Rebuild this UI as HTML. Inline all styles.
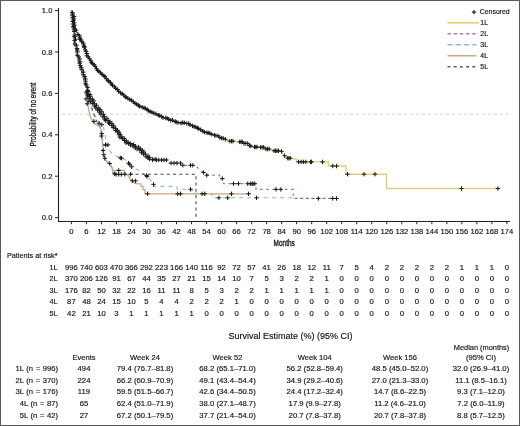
<!DOCTYPE html>
<html><head><meta charset="utf-8"><style>
html,body{margin:0;padding:0;background:#fff;}
svg{display:block;}
text{font-family:"Liberation Sans", sans-serif;fill:#111;stroke:#111;stroke-width:0.15px;}
</style></head><body>
<svg width="520" height="426" viewBox="0 0 520 426">
<defs><filter id="b" x="-5%" y="-5%" width="110%" height="110%"><feGaussianBlur stdDeviation="0.25"/></filter></defs>
<g filter="url(#b)">
<line x1="62" y1="114.10" x2="508" y2="114.10" stroke="#cfcfcf" stroke-width="1" stroke-dasharray="3 3"/>
<path d="M58.5 8 V221.5 H510" fill="none" stroke="#222" stroke-width="1.1"/>
<line x1="55" y1="217.60" x2="58.5" y2="217.60" stroke="#222" stroke-width="1"/>
<text x="52.4" y="220.10" text-anchor="end" font-size="7.6">0.0</text>
<line x1="55" y1="176.20" x2="58.5" y2="176.20" stroke="#222" stroke-width="1"/>
<text x="52.4" y="178.70" text-anchor="end" font-size="7.6">0.2</text>
<line x1="55" y1="134.80" x2="58.5" y2="134.80" stroke="#222" stroke-width="1"/>
<text x="52.4" y="137.30" text-anchor="end" font-size="7.6">0.4</text>
<line x1="55" y1="93.40" x2="58.5" y2="93.40" stroke="#222" stroke-width="1"/>
<text x="52.4" y="95.90" text-anchor="end" font-size="7.6">0.6</text>
<line x1="55" y1="52.00" x2="58.5" y2="52.00" stroke="#222" stroke-width="1"/>
<text x="52.4" y="54.50" text-anchor="end" font-size="7.6">0.8</text>
<line x1="55" y1="10.60" x2="58.5" y2="10.60" stroke="#222" stroke-width="1"/>
<text x="52.4" y="13.10" text-anchor="end" font-size="7.6">1.0</text>
<line x1="71.40" y1="221.5" x2="71.40" y2="224.2" stroke="#222" stroke-width="1"/>
<text x="71.40" y="233.7" text-anchor="middle" font-size="7.65">0</text>
<line x1="86.42" y1="221.5" x2="86.42" y2="224.2" stroke="#222" stroke-width="1"/>
<text x="86.42" y="233.7" text-anchor="middle" font-size="7.65">6</text>
<line x1="101.44" y1="221.5" x2="101.44" y2="224.2" stroke="#222" stroke-width="1"/>
<text x="101.44" y="233.7" text-anchor="middle" font-size="7.65">12</text>
<line x1="116.45" y1="221.5" x2="116.45" y2="224.2" stroke="#222" stroke-width="1"/>
<text x="116.45" y="233.7" text-anchor="middle" font-size="7.65">18</text>
<line x1="131.47" y1="221.5" x2="131.47" y2="224.2" stroke="#222" stroke-width="1"/>
<text x="131.47" y="233.7" text-anchor="middle" font-size="7.65">24</text>
<line x1="146.49" y1="221.5" x2="146.49" y2="224.2" stroke="#222" stroke-width="1"/>
<text x="146.49" y="233.7" text-anchor="middle" font-size="7.65">30</text>
<line x1="161.51" y1="221.5" x2="161.51" y2="224.2" stroke="#222" stroke-width="1"/>
<text x="161.51" y="233.7" text-anchor="middle" font-size="7.65">36</text>
<line x1="176.53" y1="221.5" x2="176.53" y2="224.2" stroke="#222" stroke-width="1"/>
<text x="176.53" y="233.7" text-anchor="middle" font-size="7.65">42</text>
<line x1="191.54" y1="221.5" x2="191.54" y2="224.2" stroke="#222" stroke-width="1"/>
<text x="191.54" y="233.7" text-anchor="middle" font-size="7.65">48</text>
<line x1="206.56" y1="221.5" x2="206.56" y2="224.2" stroke="#222" stroke-width="1"/>
<text x="206.56" y="233.7" text-anchor="middle" font-size="7.65">54</text>
<line x1="221.58" y1="221.5" x2="221.58" y2="224.2" stroke="#222" stroke-width="1"/>
<text x="221.58" y="233.7" text-anchor="middle" font-size="7.65">60</text>
<line x1="236.60" y1="221.5" x2="236.60" y2="224.2" stroke="#222" stroke-width="1"/>
<text x="236.60" y="233.7" text-anchor="middle" font-size="7.65">66</text>
<line x1="251.62" y1="221.5" x2="251.62" y2="224.2" stroke="#222" stroke-width="1"/>
<text x="251.62" y="233.7" text-anchor="middle" font-size="7.65">72</text>
<line x1="266.63" y1="221.5" x2="266.63" y2="224.2" stroke="#222" stroke-width="1"/>
<text x="266.63" y="233.7" text-anchor="middle" font-size="7.65">78</text>
<line x1="281.65" y1="221.5" x2="281.65" y2="224.2" stroke="#222" stroke-width="1"/>
<text x="281.65" y="233.7" text-anchor="middle" font-size="7.65">84</text>
<line x1="296.67" y1="221.5" x2="296.67" y2="224.2" stroke="#222" stroke-width="1"/>
<text x="296.67" y="233.7" text-anchor="middle" font-size="7.65">90</text>
<line x1="311.69" y1="221.5" x2="311.69" y2="224.2" stroke="#222" stroke-width="1"/>
<text x="311.69" y="233.7" text-anchor="middle" font-size="7.65">96</text>
<line x1="326.71" y1="221.5" x2="326.71" y2="224.2" stroke="#222" stroke-width="1"/>
<text x="326.71" y="233.7" text-anchor="middle" font-size="7.65">102</text>
<line x1="341.72" y1="221.5" x2="341.72" y2="224.2" stroke="#222" stroke-width="1"/>
<text x="341.72" y="233.7" text-anchor="middle" font-size="7.65">108</text>
<line x1="356.74" y1="221.5" x2="356.74" y2="224.2" stroke="#222" stroke-width="1"/>
<text x="356.74" y="233.7" text-anchor="middle" font-size="7.65">114</text>
<line x1="371.76" y1="221.5" x2="371.76" y2="224.2" stroke="#222" stroke-width="1"/>
<text x="371.76" y="233.7" text-anchor="middle" font-size="7.65">120</text>
<line x1="386.78" y1="221.5" x2="386.78" y2="224.2" stroke="#222" stroke-width="1"/>
<text x="386.78" y="233.7" text-anchor="middle" font-size="7.65">126</text>
<line x1="401.80" y1="221.5" x2="401.80" y2="224.2" stroke="#222" stroke-width="1"/>
<text x="401.80" y="233.7" text-anchor="middle" font-size="7.65">132</text>
<line x1="416.81" y1="221.5" x2="416.81" y2="224.2" stroke="#222" stroke-width="1"/>
<text x="416.81" y="233.7" text-anchor="middle" font-size="7.65">138</text>
<line x1="431.83" y1="221.5" x2="431.83" y2="224.2" stroke="#222" stroke-width="1"/>
<text x="431.83" y="233.7" text-anchor="middle" font-size="7.65">144</text>
<line x1="446.85" y1="221.5" x2="446.85" y2="224.2" stroke="#222" stroke-width="1"/>
<text x="446.85" y="233.7" text-anchor="middle" font-size="7.65">150</text>
<line x1="461.87" y1="221.5" x2="461.87" y2="224.2" stroke="#222" stroke-width="1"/>
<text x="461.87" y="233.7" text-anchor="middle" font-size="7.65">156</text>
<line x1="476.89" y1="221.5" x2="476.89" y2="224.2" stroke="#222" stroke-width="1"/>
<text x="476.89" y="233.7" text-anchor="middle" font-size="7.65">162</text>
<line x1="491.90" y1="221.5" x2="491.90" y2="224.2" stroke="#222" stroke-width="1"/>
<text x="491.90" y="233.7" text-anchor="middle" font-size="7.65">168</text>
<line x1="506.92" y1="221.5" x2="506.92" y2="224.2" stroke="#222" stroke-width="1"/>
<text x="506.92" y="233.7" text-anchor="middle" font-size="7.65">174</text>
<text transform="translate(284.2 246) scale(0.79 1)" text-anchor="middle" font-size="8.2" style="stroke-width:0.3px">Months</text>
<text transform="translate(36.1 114.4) rotate(-90) scale(0.79 1)" text-anchor="middle" font-size="8.2" style="stroke-width:0.25px">Probability of no event</text>
<path d="M474 10 V14.2 M471.9 12.1 H476.1" stroke="#222" stroke-width="1.1"/>
<text x="479.8" y="14.3" font-size="6.9">Censored</text>
<line x1="447.5" y1="22.80" x2="479" y2="22.80" stroke="#e8d67c" stroke-width="1.8"/>
<text x="480.3" y="25.10" font-size="6.9">1L</text>
<line x1="447.5" y1="33.80" x2="476.5" y2="33.80" stroke="#c47890" stroke-width="1.4" stroke-dasharray="3.3 2.9"/>
<text x="480.3" y="36.10" font-size="6.9">2L</text>
<line x1="447.5" y1="44.80" x2="476.5" y2="44.80" stroke="#8cbcd2" stroke-width="1.4" stroke-dasharray="5 3.2"/>
<text x="480.3" y="47.10" font-size="6.9">3L</text>
<line x1="447.5" y1="55.80" x2="476.5" y2="55.80" stroke="#c4a47e" stroke-width="1.4"/>
<text x="480.3" y="58.10" font-size="6.9">4L</text>
<line x1="447.5" y1="66.80" x2="476.5" y2="66.80" stroke="#5a606e" stroke-width="1.4" stroke-dasharray="3 3.2"/>
<text x="480.3" y="69.10" font-size="6.9">5L</text>
<text x="6.9" y="258.2" font-size="7.3">Patients at risk*</text>
<text x="57.4" y="270.00" text-anchor="end" font-size="7.2">1L</text>
<text x="71.40" y="270.00" text-anchor="middle" font-size="7.7">996</text>
<text x="86.42" y="270.00" text-anchor="middle" font-size="7.7">740</text>
<text x="101.44" y="270.00" text-anchor="middle" font-size="7.7">603</text>
<text x="116.45" y="270.00" text-anchor="middle" font-size="7.7">470</text>
<text x="131.47" y="270.00" text-anchor="middle" font-size="7.7">366</text>
<text x="146.49" y="270.00" text-anchor="middle" font-size="7.7">292</text>
<text x="161.51" y="270.00" text-anchor="middle" font-size="7.7">223</text>
<text x="176.53" y="270.00" text-anchor="middle" font-size="7.7">166</text>
<text x="191.54" y="270.00" text-anchor="middle" font-size="7.7">140</text>
<text x="206.56" y="270.00" text-anchor="middle" font-size="7.7">116</text>
<text x="221.58" y="270.00" text-anchor="middle" font-size="7.7">92</text>
<text x="236.60" y="270.00" text-anchor="middle" font-size="7.7">72</text>
<text x="251.62" y="270.00" text-anchor="middle" font-size="7.7">57</text>
<text x="266.63" y="270.00" text-anchor="middle" font-size="7.7">41</text>
<text x="281.65" y="270.00" text-anchor="middle" font-size="7.7">26</text>
<text x="296.67" y="270.00" text-anchor="middle" font-size="7.7">18</text>
<text x="311.69" y="270.00" text-anchor="middle" font-size="7.7">12</text>
<text x="326.71" y="270.00" text-anchor="middle" font-size="7.7">11</text>
<text x="341.72" y="270.00" text-anchor="middle" font-size="7.7">7</text>
<text x="356.74" y="270.00" text-anchor="middle" font-size="7.7">5</text>
<text x="371.76" y="270.00" text-anchor="middle" font-size="7.7">4</text>
<text x="386.78" y="270.00" text-anchor="middle" font-size="7.7">2</text>
<text x="401.80" y="270.00" text-anchor="middle" font-size="7.7">2</text>
<text x="416.81" y="270.00" text-anchor="middle" font-size="7.7">2</text>
<text x="431.83" y="270.00" text-anchor="middle" font-size="7.7">2</text>
<text x="446.85" y="270.00" text-anchor="middle" font-size="7.7">2</text>
<text x="461.87" y="270.00" text-anchor="middle" font-size="7.7">1</text>
<text x="476.89" y="270.00" text-anchor="middle" font-size="7.7">1</text>
<text x="491.90" y="270.00" text-anchor="middle" font-size="7.7">1</text>
<text x="506.92" y="270.00" text-anchor="middle" font-size="7.7">0</text>
<text x="57.4" y="281.45" text-anchor="end" font-size="7.2">2L</text>
<text x="71.40" y="281.45" text-anchor="middle" font-size="7.7">370</text>
<text x="86.42" y="281.45" text-anchor="middle" font-size="7.7">206</text>
<text x="101.44" y="281.45" text-anchor="middle" font-size="7.7">126</text>
<text x="116.45" y="281.45" text-anchor="middle" font-size="7.7">91</text>
<text x="131.47" y="281.45" text-anchor="middle" font-size="7.7">67</text>
<text x="146.49" y="281.45" text-anchor="middle" font-size="7.7">44</text>
<text x="161.51" y="281.45" text-anchor="middle" font-size="7.7">35</text>
<text x="176.53" y="281.45" text-anchor="middle" font-size="7.7">27</text>
<text x="191.54" y="281.45" text-anchor="middle" font-size="7.7">21</text>
<text x="206.56" y="281.45" text-anchor="middle" font-size="7.7">15</text>
<text x="221.58" y="281.45" text-anchor="middle" font-size="7.7">14</text>
<text x="236.60" y="281.45" text-anchor="middle" font-size="7.7">10</text>
<text x="251.62" y="281.45" text-anchor="middle" font-size="7.7">7</text>
<text x="266.63" y="281.45" text-anchor="middle" font-size="7.7">5</text>
<text x="281.65" y="281.45" text-anchor="middle" font-size="7.7">3</text>
<text x="296.67" y="281.45" text-anchor="middle" font-size="7.7">2</text>
<text x="311.69" y="281.45" text-anchor="middle" font-size="7.7">2</text>
<text x="326.71" y="281.45" text-anchor="middle" font-size="7.7">1</text>
<text x="341.72" y="281.45" text-anchor="middle" font-size="7.7">0</text>
<text x="356.74" y="281.45" text-anchor="middle" font-size="7.7">0</text>
<text x="371.76" y="281.45" text-anchor="middle" font-size="7.7">0</text>
<text x="386.78" y="281.45" text-anchor="middle" font-size="7.7">0</text>
<text x="401.80" y="281.45" text-anchor="middle" font-size="7.7">0</text>
<text x="416.81" y="281.45" text-anchor="middle" font-size="7.7">0</text>
<text x="431.83" y="281.45" text-anchor="middle" font-size="7.7">0</text>
<text x="446.85" y="281.45" text-anchor="middle" font-size="7.7">0</text>
<text x="461.87" y="281.45" text-anchor="middle" font-size="7.7">0</text>
<text x="476.89" y="281.45" text-anchor="middle" font-size="7.7">0</text>
<text x="491.90" y="281.45" text-anchor="middle" font-size="7.7">0</text>
<text x="506.92" y="281.45" text-anchor="middle" font-size="7.7">0</text>
<text x="57.4" y="292.90" text-anchor="end" font-size="7.2">3L</text>
<text x="71.40" y="292.90" text-anchor="middle" font-size="7.7">176</text>
<text x="86.42" y="292.90" text-anchor="middle" font-size="7.7">82</text>
<text x="101.44" y="292.90" text-anchor="middle" font-size="7.7">50</text>
<text x="116.45" y="292.90" text-anchor="middle" font-size="7.7">32</text>
<text x="131.47" y="292.90" text-anchor="middle" font-size="7.7">22</text>
<text x="146.49" y="292.90" text-anchor="middle" font-size="7.7">16</text>
<text x="161.51" y="292.90" text-anchor="middle" font-size="7.7">11</text>
<text x="176.53" y="292.90" text-anchor="middle" font-size="7.7">11</text>
<text x="191.54" y="292.90" text-anchor="middle" font-size="7.7">8</text>
<text x="206.56" y="292.90" text-anchor="middle" font-size="7.7">5</text>
<text x="221.58" y="292.90" text-anchor="middle" font-size="7.7">3</text>
<text x="236.60" y="292.90" text-anchor="middle" font-size="7.7">2</text>
<text x="251.62" y="292.90" text-anchor="middle" font-size="7.7">2</text>
<text x="266.63" y="292.90" text-anchor="middle" font-size="7.7">1</text>
<text x="281.65" y="292.90" text-anchor="middle" font-size="7.7">1</text>
<text x="296.67" y="292.90" text-anchor="middle" font-size="7.7">1</text>
<text x="311.69" y="292.90" text-anchor="middle" font-size="7.7">1</text>
<text x="326.71" y="292.90" text-anchor="middle" font-size="7.7">1</text>
<text x="341.72" y="292.90" text-anchor="middle" font-size="7.7">0</text>
<text x="356.74" y="292.90" text-anchor="middle" font-size="7.7">0</text>
<text x="371.76" y="292.90" text-anchor="middle" font-size="7.7">0</text>
<text x="386.78" y="292.90" text-anchor="middle" font-size="7.7">0</text>
<text x="401.80" y="292.90" text-anchor="middle" font-size="7.7">0</text>
<text x="416.81" y="292.90" text-anchor="middle" font-size="7.7">0</text>
<text x="431.83" y="292.90" text-anchor="middle" font-size="7.7">0</text>
<text x="446.85" y="292.90" text-anchor="middle" font-size="7.7">0</text>
<text x="461.87" y="292.90" text-anchor="middle" font-size="7.7">0</text>
<text x="476.89" y="292.90" text-anchor="middle" font-size="7.7">0</text>
<text x="491.90" y="292.90" text-anchor="middle" font-size="7.7">0</text>
<text x="506.92" y="292.90" text-anchor="middle" font-size="7.7">0</text>
<text x="57.4" y="304.35" text-anchor="end" font-size="7.2">4L</text>
<text x="71.40" y="304.35" text-anchor="middle" font-size="7.7">87</text>
<text x="86.42" y="304.35" text-anchor="middle" font-size="7.7">48</text>
<text x="101.44" y="304.35" text-anchor="middle" font-size="7.7">24</text>
<text x="116.45" y="304.35" text-anchor="middle" font-size="7.7">15</text>
<text x="131.47" y="304.35" text-anchor="middle" font-size="7.7">10</text>
<text x="146.49" y="304.35" text-anchor="middle" font-size="7.7">5</text>
<text x="161.51" y="304.35" text-anchor="middle" font-size="7.7">4</text>
<text x="176.53" y="304.35" text-anchor="middle" font-size="7.7">4</text>
<text x="191.54" y="304.35" text-anchor="middle" font-size="7.7">2</text>
<text x="206.56" y="304.35" text-anchor="middle" font-size="7.7">2</text>
<text x="221.58" y="304.35" text-anchor="middle" font-size="7.7">2</text>
<text x="236.60" y="304.35" text-anchor="middle" font-size="7.7">1</text>
<text x="251.62" y="304.35" text-anchor="middle" font-size="7.7">0</text>
<text x="266.63" y="304.35" text-anchor="middle" font-size="7.7">0</text>
<text x="281.65" y="304.35" text-anchor="middle" font-size="7.7">0</text>
<text x="296.67" y="304.35" text-anchor="middle" font-size="7.7">0</text>
<text x="311.69" y="304.35" text-anchor="middle" font-size="7.7">0</text>
<text x="326.71" y="304.35" text-anchor="middle" font-size="7.7">0</text>
<text x="341.72" y="304.35" text-anchor="middle" font-size="7.7">0</text>
<text x="356.74" y="304.35" text-anchor="middle" font-size="7.7">0</text>
<text x="371.76" y="304.35" text-anchor="middle" font-size="7.7">0</text>
<text x="386.78" y="304.35" text-anchor="middle" font-size="7.7">0</text>
<text x="401.80" y="304.35" text-anchor="middle" font-size="7.7">0</text>
<text x="416.81" y="304.35" text-anchor="middle" font-size="7.7">0</text>
<text x="431.83" y="304.35" text-anchor="middle" font-size="7.7">0</text>
<text x="446.85" y="304.35" text-anchor="middle" font-size="7.7">0</text>
<text x="461.87" y="304.35" text-anchor="middle" font-size="7.7">0</text>
<text x="476.89" y="304.35" text-anchor="middle" font-size="7.7">0</text>
<text x="491.90" y="304.35" text-anchor="middle" font-size="7.7">0</text>
<text x="506.92" y="304.35" text-anchor="middle" font-size="7.7">0</text>
<text x="57.4" y="315.80" text-anchor="end" font-size="7.2">5L</text>
<text x="71.40" y="315.80" text-anchor="middle" font-size="7.7">42</text>
<text x="86.42" y="315.80" text-anchor="middle" font-size="7.7">21</text>
<text x="101.44" y="315.80" text-anchor="middle" font-size="7.7">10</text>
<text x="116.45" y="315.80" text-anchor="middle" font-size="7.7">3</text>
<text x="131.47" y="315.80" text-anchor="middle" font-size="7.7">1</text>
<text x="146.49" y="315.80" text-anchor="middle" font-size="7.7">1</text>
<text x="161.51" y="315.80" text-anchor="middle" font-size="7.7">1</text>
<text x="176.53" y="315.80" text-anchor="middle" font-size="7.7">1</text>
<text x="191.54" y="315.80" text-anchor="middle" font-size="7.7">1</text>
<text x="206.56" y="315.80" text-anchor="middle" font-size="7.7">0</text>
<text x="221.58" y="315.80" text-anchor="middle" font-size="7.7">0</text>
<text x="236.60" y="315.80" text-anchor="middle" font-size="7.7">0</text>
<text x="251.62" y="315.80" text-anchor="middle" font-size="7.7">0</text>
<text x="266.63" y="315.80" text-anchor="middle" font-size="7.7">0</text>
<text x="281.65" y="315.80" text-anchor="middle" font-size="7.7">0</text>
<text x="296.67" y="315.80" text-anchor="middle" font-size="7.7">0</text>
<text x="311.69" y="315.80" text-anchor="middle" font-size="7.7">0</text>
<text x="326.71" y="315.80" text-anchor="middle" font-size="7.7">0</text>
<text x="341.72" y="315.80" text-anchor="middle" font-size="7.7">0</text>
<text x="356.74" y="315.80" text-anchor="middle" font-size="7.7">0</text>
<text x="371.76" y="315.80" text-anchor="middle" font-size="7.7">0</text>
<text x="386.78" y="315.80" text-anchor="middle" font-size="7.7">0</text>
<text x="401.80" y="315.80" text-anchor="middle" font-size="7.7">0</text>
<text x="416.81" y="315.80" text-anchor="middle" font-size="7.7">0</text>
<text x="431.83" y="315.80" text-anchor="middle" font-size="7.7">0</text>
<text x="446.85" y="315.80" text-anchor="middle" font-size="7.7">0</text>
<text x="461.87" y="315.80" text-anchor="middle" font-size="7.7">0</text>
<text x="476.89" y="315.80" text-anchor="middle" font-size="7.7">0</text>
<text x="491.90" y="315.80" text-anchor="middle" font-size="7.7">0</text>
<text x="506.92" y="315.80" text-anchor="middle" font-size="7.7">0</text>
<text x="290.4" y="338.8" text-anchor="middle" font-size="9">Survival Estimate (%) (95% CI)</text>
<text x="481.5" y="350" text-anchor="middle" font-size="7.4">Median (months)</text>
<text x="84" y="360.2" text-anchor="middle" font-size="7.6">Events</text>
<text x="145" y="360.2" text-anchor="middle" font-size="7.6">Week 24</text>
<text x="227.5" y="360.2" text-anchor="middle" font-size="7.6">Week 52</text>
<text x="314.7" y="360.2" text-anchor="middle" font-size="7.6">Week 104</text>
<text x="400" y="360.2" text-anchor="middle" font-size="7.6">Week 156</text>
<text x="481" y="360.2" text-anchor="middle" font-size="7.6">(95% CI)</text>
<text x="58" y="371.30" text-anchor="end" font-size="7.6" word-spacing="0.55">1L (n = 996)</text>
<text x="84" y="371.30" text-anchor="middle" font-size="7.7">494</text>
<text x="145" y="371.30" text-anchor="middle" font-size="7.7">79.4 (76.7–81.8)</text>
<text x="227.5" y="371.30" text-anchor="middle" font-size="7.7">68.2 (65.1–71.0)</text>
<text x="314.7" y="371.30" text-anchor="middle" font-size="7.7">56.2 (52.8–59.4)</text>
<text x="400" y="371.30" text-anchor="middle" font-size="7.7">48.5 (45.0–52.0)</text>
<text x="481" y="371.30" text-anchor="middle" font-size="7.7">32.0 (26.9–41.0)</text>
<text x="58" y="382.85" text-anchor="end" font-size="7.6" word-spacing="0.55">2L (n = 370)</text>
<text x="84" y="382.85" text-anchor="middle" font-size="7.7">224</text>
<text x="145" y="382.85" text-anchor="middle" font-size="7.7">66.2 (60.9–70.9)</text>
<text x="227.5" y="382.85" text-anchor="middle" font-size="7.7">49.1 (43.4–54.4)</text>
<text x="314.7" y="382.85" text-anchor="middle" font-size="7.7">34.9 (29.2–40.6)</text>
<text x="400" y="382.85" text-anchor="middle" font-size="7.7">27.0 (21.3–33.0)</text>
<text x="481" y="382.85" text-anchor="middle" font-size="7.7">11.1 (8.5–16.1)</text>
<text x="58" y="394.40" text-anchor="end" font-size="7.6" word-spacing="0.55">3L (n = 176)</text>
<text x="84" y="394.40" text-anchor="middle" font-size="7.7">119</text>
<text x="145" y="394.40" text-anchor="middle" font-size="7.7">59.5 (51.5–66.7)</text>
<text x="227.5" y="394.40" text-anchor="middle" font-size="7.7">42.6 (34.4–50.5)</text>
<text x="314.7" y="394.40" text-anchor="middle" font-size="7.7">24.4 (17.2–32.4)</text>
<text x="400" y="394.40" text-anchor="middle" font-size="7.7">14.7 (8.6–22.5)</text>
<text x="481" y="394.40" text-anchor="middle" font-size="7.7">9.3 (7.1–12.0)</text>
<text x="58" y="405.95" text-anchor="end" font-size="7.6" word-spacing="0.55">4L (n = 87)</text>
<text x="84" y="405.95" text-anchor="middle" font-size="7.7">65</text>
<text x="145" y="405.95" text-anchor="middle" font-size="7.7">62.4 (51.0–71.9)</text>
<text x="227.5" y="405.95" text-anchor="middle" font-size="7.7">38.0 (27.1–48.7)</text>
<text x="314.7" y="405.95" text-anchor="middle" font-size="7.7">17.9 (9.9–27.8)</text>
<text x="400" y="405.95" text-anchor="middle" font-size="7.7">11.2 (4.6–21.0)</text>
<text x="481" y="405.95" text-anchor="middle" font-size="7.7">7.2 (6.0–11.9)</text>
<text x="58" y="417.50" text-anchor="end" font-size="7.6" word-spacing="0.55">5L (n = 42)</text>
<text x="84" y="417.50" text-anchor="middle" font-size="7.7">27</text>
<text x="145" y="417.50" text-anchor="middle" font-size="7.7">67.2 (50.1–79.5)</text>
<text x="227.5" y="417.50" text-anchor="middle" font-size="7.7">37.7 (21.4–54.0)</text>
<text x="314.7" y="417.50" text-anchor="middle" font-size="7.7">20.7 (7.8–37.8)</text>
<text x="400" y="417.50" text-anchor="middle" font-size="7.7">20.7 (7.8–37.8)</text>
<text x="481" y="417.50" text-anchor="middle" font-size="7.7">8.8 (5.7–12.5)</text>
<path d="M71.4 10.6 L72.4 12.6 L73.0 18.0 L73.5 24.0 L72.6 30.0 L72.8 34.0 L73.1 40.0 L73.8 44.0 L74.8 47.8 L76.2 54.4 L78.1 62.8 L79.9 69.4 L82.3 76.0 L84.2 82.6 L85.3 87.0 L86.3 91.0 L89.5 100.0 L91.5 108.0 L93.4 113.9 L95.3 116.2 L98.1 121.4 L101.8 124.7 L103.5 127.0 L105.0 135.0 L106.5 143.0 L108.7 149.8 L113.4 155.0 L121.6 158.2 L126.8 160.6 L129.7 164.4 L131.7 166.8 L138.4 170.2 L144.0 174.0 L146.0 175.5 L148.8 178.2 L154.1 184.0 L154.1 186.4 L177.0 186.4 L177.0 189.3 L192.0 189.3 L192.0 193.2 L212.0 193.2 L212.0 197.8 L292.5 197.8" fill="none" stroke="#8cbcd2" stroke-width="1.1" stroke-dasharray="4 4.2"/>
<path d="M71.4 10.6 L72.4 12.6 L73.0 18.0 L73.5 24.0 L73.2 30.0 L73.4 34.0 L73.7 40.0 L74.4 44.0 L75.4 47.8 L76.8 54.4 L78.7 62.8 L80.5 69.4 L82.9 76.0 L84.8 82.6 L85.9 87.0 L86.9 91.0 L88.0 94.0 L90.0 100.0 L93.0 112.0 L97.0 122.0 L100.0 127.0 L101.0 130.0 L102.3 139.2 L103.2 150.3 L103.5 154.0 L105.5 160.3 L109.7 163.5 L112.4 168.8 L113.4 174.2 L196.0 174.2 L196.0 217.6" fill="none" stroke="#3a4662" stroke-width="1.05" stroke-dasharray="3 3.25"/>
<path d="M71.4 10.6 L72.4 12.6 L73.0 18.0 L73.5 24.0 L73.8 30.0 L74.0 34.0 L74.3 40.0 L75.0 44.0 L76.0 47.8 L77.4 54.4 L79.3 62.8 L81.1 69.4 L83.5 76.0 L85.4 82.6 L86.5 87.0 L86.8 95.0 L87.6 103.3 L89.0 110.8 L89.6 113.0 L90.6 117.6 L92.5 120.5 L95.3 124.2 L99.5 126.1 L101.0 130.0 L102.3 139.2 L103.2 150.3 L103.5 154.0 L105.5 160.3 L109.7 163.5 L112.4 168.8 L112.4 170.4 L124.4 170.4 L124.4 173.0 L128.8 176.0 L129.7 178.8 L135.5 183.7 L141.0 183.8 L141.0 186.3 L143.0 186.3 L143.0 189.7 L145.0 189.7 L145.0 193.8 L250.8 193.8" fill="none" stroke="#c8a680" stroke-width="1.3"/>
<path d="M71.4 10.6 L72.4 12.6 L73.0 18.0 L73.5 24.0 L73.8 30.0 L74.0 34.0 L74.3 40.0 L75.0 44.0 L76.0 47.8 L77.4 54.4 L79.3 62.8 L81.1 69.4 L83.5 76.0 L85.4 82.6 L86.5 87.0 L87.5 91.0 L89.8 96.9 L91.4 100.0 L95.0 105.0 L99.8 111.7 L105.0 118.5 L110.9 123.8 L116.7 130.3 L122.6 138.5 L128.5 143.2 L134.3 146.1 L140.2 149.6 L144.9 154.9 L149.6 159.0 L154.3 160.0 L168.2 160.0 L168.2 163.1 L180.5 163.1 L180.5 165.3 L195.4 165.3 L198.0 168.0 L200.8 170.5 L203.5 172.5 L206.8 175.2 L219.6 175.2 L219.6 178.6 L223.6 178.6 L223.6 183.7 L256.0 183.7 L256.0 189.4 L293.3 189.4 L293.3 198.3" fill="none" stroke="#c06a82" stroke-width="1.2" stroke-dasharray="2.5 3.7"/>
<line x1="294.5" y1="198.3" x2="338.5" y2="198.3" stroke="#86708c" stroke-width="1.2" stroke-dasharray="3.2 2.4"/>
<path d="M71.4 10.6 L72.4 12.6 L73.5 18.0 L74.5 24.0 L75.5 29.0 L76.5 31.5 L77.9 33.5 L80.0 37.5 L81.7 41.1 L84.2 46.0 L86.0 51.0 L87.0 55.5 L89.5 59.0 L91.5 61.9 L94.1 65.4 L97.0 69.4 L101.1 73.1 L105.0 77.5 L108.2 80.8 L113.6 86.5 L115.2 87.9 L120.0 92.5 L122.3 94.2 L125.8 97.1 L131.5 100.6 L137.3 104.6 L143.1 107.5 L148.8 111.0 L154.6 113.8 L160.4 116.1 L166.1 118.4 L171.9 120.2 L177.7 122.5 L181.7 122.8 L188.5 123.7 L195.2 127.1 L201.9 130.5 L208.6 133.2 L215.4 135.2 L222.1 138.2 L228.8 141.0 L233.0 141.2 L239.7 141.9 L242.2 141.9 L244.0 143.4 L247.7 143.4 L250.0 145.8 L254.5 147.0 L263.7 147.3 L266.0 149.0 L269.2 149.0 L274.0 150.8 L281.5 151.4 L284.6 155.7 L287.7 158.2 L290.2 158.2 L294.5 159.0 L296.5 159.0 L296.5 161.9 L328.5 161.9 L328.5 166.0 L346.0 166.0 L346.0 174.2 L386.5 174.2 L386.5 188.5 L498.0 188.5" fill="none" stroke="#dfd078" stroke-width="1.4"/>
<path d="M71.4 10.6 L72.4 12.6 L73.5 18.0 L74.5 24.0 L75.5 29.0 L76.5 31.5 L77.9 33.5 L80.0 37.5 L81.7 41.1 L84.2 46.0 L86.0 51.0 L87.0 55.5 L89.5 59.0 L91.5 61.9 L94.1 65.4 L97.0 69.4 L101.1 73.1 L105.0 77.5 L108.2 80.8 L113.6 86.5 L115.2 87.9 L120.0 92.5 L122.3 94.2 L125.8 97.1 L131.5 100.6 L137.3 104.6 L143.1 107.5 L148.8 111.0 L154.6 113.8 L160.4 116.1 L166.1 118.4 L171.9 120.2 L177.7 122.5 L181.7 122.8 L188.5 123.7 L195.2 127.1 L201.9 130.5 L208.6 133.2 L215.4 135.2 L222.1 138.2" fill="none" stroke="#444" stroke-width="1.0"/>
<path d="M72.4 10.4v4.4M70.2 12.6h4.4 M72.7 11.8v4.4M70.5 14.0h4.4 M72.3 13.1v4.4M70.1 15.2h4.4 M74.0 14.3v4.4M71.8 16.5h4.4 M72.4 15.6v4.4M70.2 17.8h4.4 M73.9 16.8v4.4M71.7 19.0h4.4 M73.5 18.1v4.4M71.3 20.2h4.4 M72.8 19.3v4.4M70.6 21.5h4.4 M74.3 20.6v4.4M72.1 22.8h4.4 M73.0 21.8v4.4M70.8 24.0h4.4 M74.4 23.1v4.4M72.2 25.2h4.4 M73.4 24.3v4.4M71.2 26.5h4.4 M73.6 25.6v4.4M71.4 27.8h4.4 M74.8 26.8v4.4M72.6 29.0h4.4 M76.1 28.1v4.4M73.9 30.2h4.4 M74.2 29.3v4.4M72.0 31.5h4.4 M78.0 32.3v4.4M75.8 34.5h4.4 M79.7 33.7v4.4M77.5 35.9h4.4 M79.8 35.7v4.4M77.6 37.9h4.4 M80.1 37.1v4.4M77.9 39.3h4.4 M81.1 37.8v4.4M78.9 40.0h4.4 M81.7 39.5v4.4M79.5 41.7h4.4 M83.3 40.9v4.4M81.1 43.1h4.4 M83.8 42.9v4.4M81.6 45.1h4.4 M84.2 44.4v4.4M82.0 46.6h4.4 M84.4 45.1v4.4M82.2 47.3h4.4 M85.2 47.7v4.4M83.0 49.9h4.4 M86.1 49.2v4.4M83.9 51.4h4.4 M86.7 51.3v4.4M84.5 53.5h4.4 M86.8 53.6v4.4M84.6 55.8h4.4 M88.4 54.7v4.4M86.2 56.9h4.4 M89.4 56.6v4.4M87.2 58.8h4.4 M90.9 58.5v4.4M88.7 60.7h4.4 M91.4 60.4v4.4M89.2 62.6h4.4 M92.4 61.4v4.4M90.2 63.6h4.4 M94.3 62.7v4.4M92.1 64.9h4.4 M95.2 64.2v4.4M93.0 66.4h4.4 M96.5 66.6v4.4M94.3 68.8h4.4 M97.7 68.2v4.4M95.5 70.4h4.4 M98.9 69.4v4.4M96.7 71.6h4.4 M100.7 70.6v4.4M98.5 72.8h4.4 M102.0 72.3v4.4M99.8 74.5h4.4 M103.8 73.4v4.4M101.6 75.6h4.4 M104.8 74.4v4.4M102.6 76.6h4.4 M106.3 76.5v4.4M104.1 78.7h4.4 M108.0 78.2v4.4M105.8 80.4h4.4 M108.6 79.1v4.4M106.4 81.3h4.4 M110.4 80.2v4.4M108.2 82.4h4.4 M111.5 81.8v4.4M109.3 84.0h4.4 M112.5 83.1v4.4M110.3 85.3h4.4 M114.7 84.6v4.4M112.5 86.8h4.4 M115.6 86.2v4.4M113.4 88.4h4.4 M117.7 87.3v4.4M115.5 89.5h4.4 M118.7 89.2v4.4M116.5 91.4h4.4 M120.6 90.8v4.4M118.4 93.0h4.4 M122.2 91.4v4.4M120.0 93.6h4.4 M123.3 92.7v4.4M121.1 94.9h4.4 M125.3 94.7v4.4M123.1 96.9h4.4 M126.1 95.0v4.4M123.9 97.2h4.4 M127.9 96.1v4.4M125.7 98.3h4.4 M129.9 97.5v4.4M127.7 99.7h4.4 M131.4 98.0v4.4M129.2 100.2h4.4 M133.2 99.5v4.4M131.0 101.7h4.4 M135.0 101.3v4.4M132.8 103.5h4.4 M136.8 101.9v4.4M134.6 104.1h4.4 M138.4 103.1v4.4M136.2 105.3h4.4 M139.6 104.2v4.4M137.4 106.4h4.4 M142.2 105.1v4.4M140.0 107.3h4.4 M144.0 105.5v4.4M141.8 107.7h4.4 M145.2 106.2v4.4M143.0 108.4h4.4 M147.2 107.2v4.4M145.0 109.4h4.4 M148.3 108.5v4.4M146.1 110.7h4.4 M150.2 109.5v4.4M148.0 111.7h4.4 M151.9 110.0v4.4M149.7 112.2h4.4 M153.8 110.9v4.4M151.6 113.1h4.4 M155.9 111.6v4.4M153.7 113.8h4.4 M158.3 113.0v4.4M156.1 115.2h4.4 M159.3 113.4v4.4M157.1 115.6h4.4 M161.4 114.2v4.4M159.2 116.4h4.4 M163.0 115.5v4.4M160.8 117.7h4.4 M165.8 115.8v4.4M163.6 118.0h4.4 M167.2 116.1v4.4M165.0 118.3h4.4 M168.6 117.0v4.4M166.4 119.2h4.4 M170.7 118.1v4.4M168.5 120.3h4.4 M172.5 117.9v4.4M170.3 120.1h4.4 M175.2 119.2v4.4M173.0 121.4h4.4 M176.2 119.9v4.4M174.0 122.1h4.4 M178.0 120.4v4.4M175.8 122.6h4.4 M181.0 120.9v4.4M178.8 123.1h4.4 M182.7 120.4v4.4M180.5 122.6h4.4 M184.3 120.6v4.4M182.1 122.8h4.4 M186.8 121.3v4.4M184.6 123.5h4.4 M188.7 121.3v4.4M186.5 123.5h4.4 M189.9 122.7v4.4M187.7 124.9h4.4 M192.5 123.7v4.4M190.3 125.9h4.4 M194.1 124.5v4.4M191.9 126.7h4.4 M195.8 124.8v4.4M193.6 127.0h4.4 M197.4 125.8v4.4M195.2 128.0h4.4 M198.6 126.4v4.4M196.4 128.6h4.4 M200.7 127.5v4.4M198.5 129.7h4.4 M203.0 129.1v4.4M200.8 131.3h4.4 M204.5 129.9v4.4M202.3 132.1h4.4 M207.0 130.6v4.4M204.8 132.8h4.4 M208.2 130.6v4.4M206.0 132.8h4.4 M209.9 131.1v4.4M207.7 133.3h4.4 M211.8 132.2v4.4M209.6 134.4h4.4 M214.5 133.0v4.4M212.3 135.2h4.4 M215.9 133.4v4.4M213.7 135.6h4.4 M218.1 133.6v4.4M215.9 135.8h4.4 M219.8 135.3v4.4M217.6 137.5h4.4 M221.7 136.0v4.4M219.5 138.2h4.4 M223.2 136.1v4.4M221.0 138.3h4.4 M225.4 137.1v4.4M223.2 139.3h4.4 M75.0 32.8v4.4M72.8 35.0h4.4 M74.6 34.3v4.4M72.4 36.5h4.4 M75.5 37.0v4.4M73.3 39.2h4.4 M74.6 38.4v4.4M72.4 40.6h4.4 M75.0 41.8v4.4M72.8 44.0h4.4 M76.5 43.0v4.4M74.3 45.2h4.4 M77.1 46.4v4.4M74.9 48.6h4.4 M77.3 47.7v4.4M75.1 49.9h4.4 M77.6 49.7v4.4M75.4 51.9h4.4 M77.4 53.1v4.4M75.2 55.3h4.4 M78.8 54.7v4.4M76.6 56.9h4.4 M79.7 56.8v4.4M77.5 59.0h4.4 M80.1 59.6v4.4M77.9 61.8h4.4 M79.7 61.1v4.4M77.5 63.3h4.4 M80.4 63.3v4.4M78.2 65.5h4.4 M81.5 65.5v4.4M79.3 67.7h4.4 M81.9 67.5v4.4M79.7 69.7h4.4 M83.4 70.0v4.4M81.2 72.2h4.4 M83.5 72.5v4.4M81.3 74.7h4.4 M84.9 74.4v4.4M82.7 76.6h4.4 M85.5 76.8v4.4M83.3 79.0h4.4 M85.6 79.0v4.4M83.4 81.2h4.4 M85.5 81.1v4.4M83.3 83.3h4.4 M86.3 82.7v4.4M84.1 84.9h4.4 M87.7 85.2v4.4M85.5 87.4h4.4 M87.8 88.2v4.4M85.6 90.4h4.4 M86.9 89.1v4.4M84.7 91.3h4.4 M87.8 91.9v4.4M85.6 94.1h4.4 M89.1 93.9v4.4M86.9 96.1h4.4 M90.0 96.5v4.4M87.8 98.7h4.4 M91.0 99.4v4.4M88.8 101.6h4.4 M92.9 101.4v4.4M90.7 103.6h4.4 M94.7 104.0v4.4M92.5 106.2h4.4 M95.9 105.8v4.4M93.7 108.0h4.4 M97.6 107.9v4.4M95.4 110.1h4.4 M99.4 110.0v4.4M97.2 112.2h4.4 M100.8 112.2v4.4M98.6 114.4h4.4 M103.0 114.6v4.4M100.8 116.8h4.4 M104.5 117.0v4.4M102.3 119.2h4.4 M105.7 118.4v4.4M103.5 120.6h4.4 M108.6 120.6v4.4M106.4 122.8h4.4 M109.6 121.5v4.4M107.4 123.7h4.4 M111.8 123.4v4.4M109.6 125.6h4.4 M113.3 125.5v4.4M111.1 127.7h4.4 M115.7 128.3v4.4M113.5 130.5h4.4 M117.6 129.7v4.4M115.4 131.9h4.4 M118.9 132.5v4.4M116.7 134.7h4.4 M119.8 135.0v4.4M117.6 137.2h4.4 M122.4 136.4v4.4M120.2 138.6h4.4 M124.5 138.3v4.4M122.3 140.5h4.4 M126.0 140.7v4.4M123.8 142.9h4.4 M128.6 141.3v4.4M126.4 143.5h4.4 M130.5 142.9v4.4M128.3 145.1h4.4 M132.8 143.7v4.4M130.6 145.9h4.4 M135.1 145.7v4.4M132.9 147.9h4.4 M137.1 146.9v4.4M134.9 149.1h4.4 M139.8 147.8v4.4M137.6 150.0h4.4 M141.5 150.5v4.4M139.3 152.7h4.4 M143.5 151.9v4.4M141.3 154.1h4.4 M146.0 154.6v4.4M143.8 156.8h4.4 M148.0 155.6v4.4M145.8 157.8h4.4 M149.4 156.9v4.4M147.2 159.1h4.4 M152.6 157.7v4.4M150.4 159.9h4.4 M88.2 89.4v4.4M86.0 91.6h4.4 M90.1 92.4v4.4M87.9 94.6h4.4 M90.4 94.1v4.4M88.2 96.3h4.4 M92.4 97.0v4.4M90.2 99.2h4.4 M93.7 98.7v4.4M91.5 100.9h4.4 M94.5 101.6v4.4M92.3 103.8h4.4 M96.5 103.0v4.4M94.3 105.2h4.4 M98.7 105.9v4.4M96.5 108.1h4.4 M100.1 107.4v4.4M97.9 109.6h4.4 M101.8 109.6v4.4M99.6 111.8h4.4 M103.4 112.2v4.4M101.2 114.4h4.4 M104.4 114.4v4.4M102.2 116.6h4.4 M106.9 116.1v4.4M104.7 118.3h4.4 M107.9 118.2v4.4M105.7 120.4h4.4 M110.1 119.6v4.4M107.9 121.8h4.4 M111.9 121.4v4.4M109.7 123.6h4.4 M113.8 123.7v4.4M111.6 125.9h4.4 M115.7 126.2v4.4M113.5 128.4h4.4 M117.4 128.0v4.4M115.2 130.2h4.4 M118.9 130.0v4.4M116.7 132.2h4.4 M120.3 132.1v4.4M118.1 134.3h4.4 M121.8 134.8v4.4M119.6 137.0h4.4 M124.3 136.2v4.4M122.1 138.4h4.4 M126.3 138.7v4.4M124.1 140.9h4.4 M128.0 140.3v4.4M125.8 142.5h4.4 M130.7 141.3v4.4M128.5 143.5h4.4 M133.6 142.4v4.4M131.4 144.6h4.4 M135.6 144.0v4.4M133.4 146.2h4.4 M138.5 144.9v4.4M136.3 147.1h4.4 M140.6 146.7v4.4M138.4 148.9h4.4 M142.3 148.2v4.4M140.1 150.4h4.4 M143.8 149.8v4.4M141.6 152.0h4.4 M145.3 151.8v4.4M143.1 154.0h4.4 M148.1 153.8v4.4M145.9 156.0h4.4 M149.4 155.4v4.4M147.2 157.6h4.4 M152.7 157.2v4.4M150.5 159.4h4.4 M155.2 157.0v4.4M153.0 159.2h4.4 M86.3 90.7v4.4M84.1 92.9h4.4 M87.5 93.6v4.4M85.3 95.8h4.4 M86.0 96.7v4.4M83.8 98.9h4.4 M88.8 99.1v4.4M86.6 101.3h4.4 M87.2 101.6v4.4M85.0 103.8h4.4 M156.4 157.8v4.4M154.2 160.0h4.4 M158.8 157.8v4.4M156.6 160.0h4.4 M161.7 157.8v4.4M159.5 160.0h4.4 M164.0 157.8v4.4M161.8 160.0h4.4 M166.4 157.8v4.4M164.2 160.0h4.4 M171.1 160.9v4.4M168.9 163.1h4.4 M174.0 160.9v4.4M171.8 163.1h4.4 M177.0 160.9v4.4M174.8 163.1h4.4 M180.5 160.9v4.4M178.3 163.1h4.4 M182.8 163.1v4.4M180.6 165.3h4.4 M190.5 163.1v4.4M188.3 165.3h4.4 M192.8 163.1v4.4M190.6 165.3h4.4 M203.5 170.3v4.4M201.3 172.5h4.4 M206.8 173.0v4.4M204.6 175.2h4.4 M222.3 176.4v4.4M220.1 178.6h4.4 M233.5 181.5v4.4M231.3 183.7h4.4 M238.5 181.5v4.4M236.3 183.7h4.4 M247.7 181.5v4.4M245.5 183.7h4.4 M250.4 181.5v4.4M248.2 183.7h4.4 M253.1 181.5v4.4M250.9 183.7h4.4 M252.0 181.5v4.4M249.8 183.7h4.4 M254.8 181.5v4.4M252.6 183.7h4.4 M276.0 187.2v4.4M273.8 189.4h4.4 M280.8 187.2v4.4M278.6 189.4h4.4 M318.3 196.3v4.4M316.1 198.5h4.4 M332.7 196.3v4.4M330.5 198.5h4.4 M336.5 196.3v4.4M334.3 198.5h4.4 M93.9 119.2v4.4M91.7 121.4h4.4 M99.0 121.1v4.4M96.8 123.3h4.4 M101.8 122.5v4.4M99.6 124.7h4.4 M101.8 131.4v4.4M99.6 133.6h4.4 M101.4 133.8v4.4M99.2 136.0h4.4 M105.6 142.7v4.4M103.4 144.9h4.4 M108.0 142.7v4.4M105.8 144.9h4.4 M103.2 148.3v4.4M101.0 150.5h4.4 M105.5 142.8v4.4M103.3 145.0h4.4 M103.8 152.6v4.4M101.6 154.8h4.4 M104.8 156.1v4.4M102.6 158.3h4.4 M109.7 161.3v4.4M107.5 163.5h4.4 M118.7 168.2v4.4M116.5 170.4h4.4 M116.0 172.2v4.4M113.8 174.4h4.4 M118.7 172.2v4.4M116.5 174.4h4.4 M121.3 172.2v4.4M119.1 174.4h4.4 M124.9 172.0v4.4M122.7 174.2h4.4 M130.7 172.0v4.4M128.5 174.2h4.4 M114.7 171.6v4.4M112.5 173.8h4.4 M121.6 156.0v4.4M119.4 158.2h4.4 M120.3 155.6v4.4M118.1 157.8h4.4 M128.5 160.9v4.4M126.3 163.1h4.4 M129.7 162.2v4.4M127.5 164.4h4.4 M131.7 164.6v4.4M129.5 166.8h4.4 M132.3 178.6v4.4M130.1 180.8h4.4 M135.6 178.6v4.4M133.4 180.8h4.4 M146.6 173.3v4.4M144.4 175.5h4.4 M147.0 174.2v4.4M144.8 176.4h4.4 M153.5 182.2v4.4M151.3 184.4h4.4 M147.6 191.6v4.4M145.4 193.8h4.4 M177.6 191.6v4.4M175.4 193.8h4.4 M180.5 191.6v4.4M178.3 193.8h4.4 M202.1 191.6v4.4M199.9 193.8h4.4 M204.8 191.6v4.4M202.6 193.8h4.4 M231.5 191.6v4.4M229.3 193.8h4.4 M248.5 191.6v4.4M246.3 193.8h4.4 M190.5 187.1v4.4M188.3 189.3h4.4 M218.9 195.6v4.4M216.7 197.8h4.4 M227.7 195.6v4.4M225.5 197.8h4.4 M256.5 195.6v4.4M254.3 197.8h4.4 M229.8 139.0v4.4M227.6 141.2h4.4 M231.5 139.0v4.4M229.3 141.2h4.4 M233.0 139.0v4.4M230.8 141.2h4.4 M239.7 139.7v4.4M237.5 141.9h4.4 M241.0 139.7v4.4M238.8 141.9h4.4 M242.2 139.7v4.4M240.0 141.9h4.4 M244.0 141.2v4.4M241.8 143.4h4.4 M245.8 141.2v4.4M243.6 143.4h4.4 M247.7 141.2v4.4M245.5 143.4h4.4 M249.5 143.3v4.4M247.3 145.5h4.4 M250.8 143.8v4.4M248.6 146.0h4.4 M254.5 144.8v4.4M252.3 147.0h4.4 M255.8 144.8v4.4M253.6 147.0h4.4 M257.0 144.8v4.4M254.8 147.0h4.4 M260.6 145.1v4.4M258.4 147.3h4.4 M262.2 145.1v4.4M260.0 147.3h4.4 M263.7 145.1v4.4M261.5 147.3h4.4 M266.0 146.8v4.4M263.8 149.0h4.4 M267.6 146.8v4.4M265.4 149.0h4.4 M269.2 146.8v4.4M267.0 149.0h4.4 M274.0 148.6v4.4M271.8 150.8h4.4 M275.5 148.6v4.4M273.3 150.8h4.4 M277.0 148.6v4.4M274.8 150.8h4.4 M278.5 148.6v4.4M276.3 150.8h4.4 M281.5 149.2v4.4M279.3 151.4h4.4 M284.6 153.5v4.4M282.4 155.7h4.4 M287.7 156.0v4.4M285.5 158.2h4.4 M289.0 156.0v4.4M286.8 158.2h4.4 M290.2 156.0v4.4M288.0 158.2h4.4 M298.6 159.7v4.4M296.4 161.9h4.4 M301.1 159.7v4.4M298.9 161.9h4.4 M303.4 159.7v4.4M301.2 161.9h4.4 M305.8 159.7v4.4M303.6 161.9h4.4 M310.6 159.7v4.4M308.4 161.9h4.4 M311.6 159.7v4.4M309.4 161.9h4.4 M322.5 159.7v4.4M320.3 161.9h4.4 M332.7 163.8v4.4M330.5 166.0h4.4 M336.5 163.8v4.4M334.3 166.0h4.4 M347.5 172.0v4.4M345.3 174.2h4.4 M364.0 172.0v4.4M361.8 174.2h4.4 M375.0 172.0v4.4M372.8 174.2h4.4 M461.5 186.3v4.4M459.3 188.5h4.4 M497.9 186.3v4.4M495.7 188.5h4.4" stroke="#1a1a1a" stroke-width="1.0" fill="none"/>
</g>
<rect x="0.5" y="0.5" width="519" height="425" fill="none" stroke="#5a5a5a" stroke-width="1"/>
</svg>
</body></html>
